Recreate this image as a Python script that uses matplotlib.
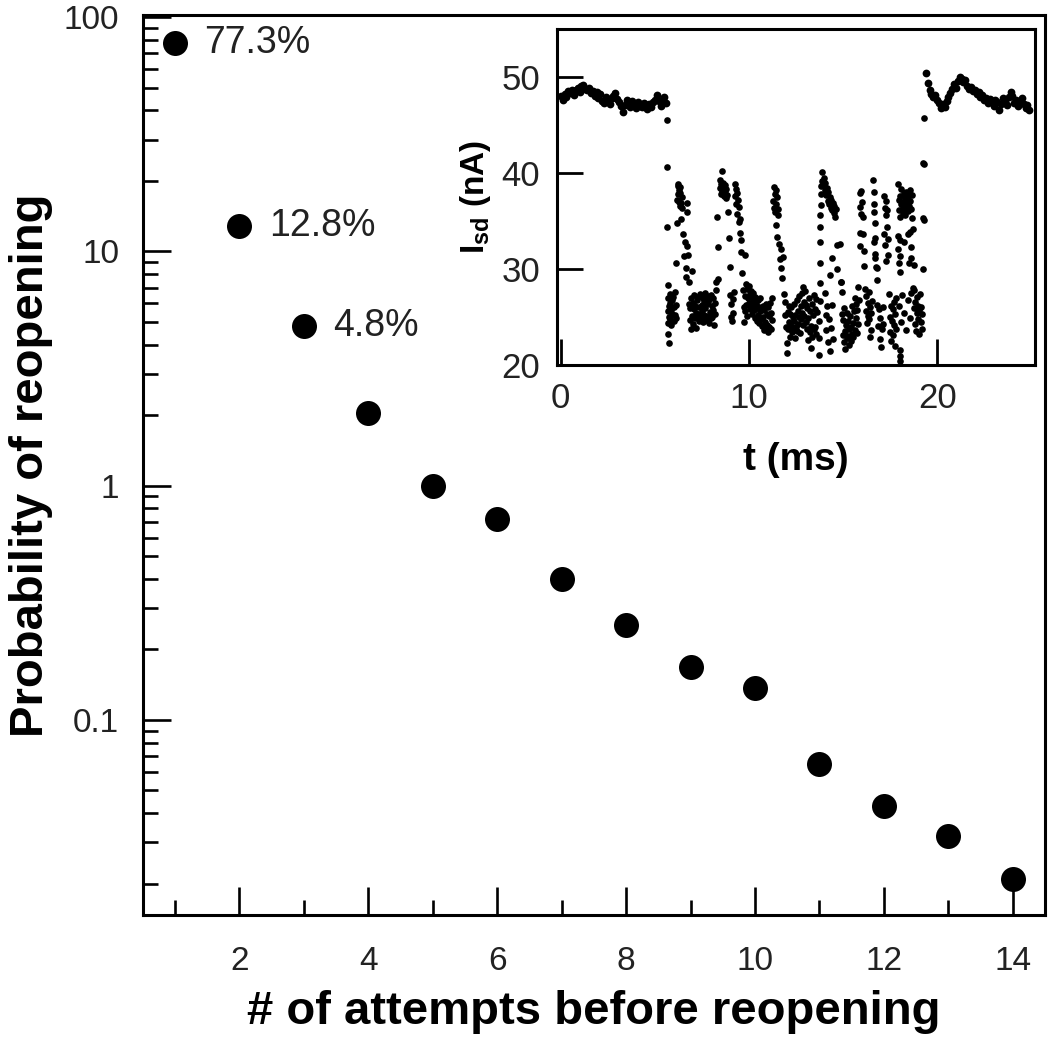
import numpy as np
import matplotlib
matplotlib.use('Agg')
import matplotlib.pyplot as plt
from matplotlib.ticker import FixedLocator, NullFormatter, FixedFormatter

plt.rcParams['font.family'] = ['Liberation Sans', 'DejaVu Sans']
plt.rcParams['mathtext.fontset'] = 'custom'
plt.rcParams['mathtext.rm'] = 'Liberation Sans'
plt.rcParams['mathtext.bf'] = 'Liberation Sans:bold'

# ---------------- main data ----------------
attempts = [1, 2, 3, 4, 5, 6, 7, 8, 9, 10, 11, 12, 13, 14]
prob = [77.3, 12.8, 4.8, 2.05, 1.0, 0.72, 0.40, 0.255, 0.168, 0.137,
        0.065, 0.043, 0.032, 0.021]
pct_labels = ['77.3%', '12.8%', '4.8%']

x_major = [2, 4, 6, 8, 10, 12, 14]
x_minor = [1, 3, 5, 7, 9, 11, 13]
y_major = [0.1, 1, 10, 100]
y_major_labels = ['0.1', '1', '10', '100']

# ---------------- inset data (current trace) ----------------
open1_start = 0.0
open1_step = 0.1
open1_I = [48.0, 47.6, 48.2, 47.9, 48.5, 48.3, 48.7, 48.1, 48.6, 48.9,
           48.4, 49.1, 49.2, 48.8, 48.6, 48.9, 48.3, 48.5, 48.0, 48.4,
           47.8, 48.2, 47.5, 47.3, 47.9, 47.6, 47.2, 47.8, 48.0, 48.3,
           47.7, 47.4, 47.0, 46.4, 47.1, 47.6, 47.3, 46.9, 47.5, 47.2,
           46.8, 47.4, 47.0, 46.9, 47.3, 47.1, 46.7, 47.2, 46.9, 47.4,
           47.6, 48.1, 47.5, 47.0, 47.6, 47.9, 47.3]

open2_start = 19.4
open2_step = 0.1
open2_I = [50.4, 49.4, 48.6, 48.2, 47.9, 48.1, 47.6, 47.3, 46.8, 47.2,
           46.9, 47.5, 47.9, 48.3, 48.8, 49.3, 48.9, 49.6, 50.0, 49.8,
           49.5, 49.7, 49.1, 48.8, 49.0, 48.5, 48.7, 48.2, 48.4, 47.9,
           48.1, 47.6, 47.8, 47.3, 47.7, 47.5, 47.0, 47.6, 47.4, 46.6,
           47.2, 47.8, 47.5, 47.1, 47.9, 48.4, 48.0, 47.3, 47.6, 47.0,
           47.4, 47.8, 47.2, 46.8, 47.1, 46.6]

blocked_t = [
    5.62, 5.64, 5.66,
    5.68, 5.69, 5.70, 5.71, 5.72, 5.73, 5.75, 5.76, 5.78, 5.80, 5.82, 5.84,
    5.88, 5.90, 5.93, 5.96, 5.99, 6.02, 6.05, 6.08, 6.11, 6.14,
    6.17, 6.19, 6.21, 6.23, 6.25, 6.27, 6.29, 6.31, 6.33, 6.35, 6.37, 6.40, 6.43, 6.46,
    6.50, 6.55, 6.60, 6.64, 6.68, 6.71, 6.73, 6.76, 6.79,
    6.82, 6.85, 6.88, 6.91, 6.94, 6.97, 7.00, 7.03, 7.06, 7.09, 7.12, 7.15, 7.18, 7.21,
    7.24, 7.27, 7.30, 7.33, 7.36, 7.39, 7.42, 7.45, 7.48, 7.51, 7.54, 7.57, 7.60, 7.63,
    7.66, 7.69, 7.72, 7.75, 7.78, 7.81, 7.84, 7.87, 7.90, 7.93, 7.96, 7.99, 8.02, 8.05,
    8.08, 8.11, 8.14, 8.17, 8.20, 8.23, 8.26,
    8.32, 8.35, 8.38,
    8.44, 8.47, 8.50, 8.53, 8.56, 8.59, 8.62, 8.65, 8.68, 8.71, 8.74, 8.77, 8.80, 8.83,
    8.88, 8.93, 8.98,
    9.01, 9.04, 9.07, 9.10, 9.13, 9.16, 9.19,
    9.24, 9.27, 9.30, 9.33, 9.36, 9.39, 9.42, 9.45, 9.48, 9.51, 9.54, 9.57, 9.60, 9.63,
    9.68, 9.71, 9.74, 9.77, 9.80, 9.83, 9.86, 9.89, 9.92, 9.95, 9.98, 10.01, 10.04,
    10.07, 10.10, 10.13, 10.16, 10.19, 10.22, 10.25, 10.28, 10.31, 10.34, 10.37, 10.40,
    10.43, 10.46, 10.49, 10.52, 10.55, 10.58, 10.61, 10.64, 10.67, 10.70, 10.73, 10.76,
    10.79, 10.82, 10.85, 10.88, 10.91, 10.94, 10.97, 11.00, 11.03, 11.06, 11.09, 11.12,
    11.15, 11.18, 11.21, 11.24,
    11.28, 11.31, 11.34, 11.37, 11.40, 11.43, 11.46, 11.49, 11.52, 11.55,
    11.45, 11.50, 11.58, 11.63, 11.68, 11.72, 11.78, 11.83,
    11.88, 11.91, 11.94, 11.97, 12.00, 12.02, 12.05, 12.08, 12.11, 12.14, 12.17, 12.20,
    12.23, 12.26, 12.29, 12.32, 12.35, 12.38, 12.41, 12.44, 12.47, 12.50, 12.53, 12.56,
    12.59, 12.62, 12.65, 12.68, 12.71, 12.74, 12.77, 12.80, 12.83, 12.86, 12.89, 12.92,
    12.95, 12.98, 13.01, 13.04, 13.07, 13.10, 13.13, 13.16, 13.19, 13.22, 13.25, 13.28,
    13.31, 13.34, 13.37, 13.40, 13.43, 13.46, 13.49, 13.52, 13.55, 13.58, 13.61,
    13.72, 13.73, 13.74, 13.75, 13.76, 13.77, 13.78, 13.79, 13.80, 13.81, 13.82, 13.83,
    13.86, 13.90, 13.94, 13.98, 14.02, 14.06, 14.10, 14.14, 14.18, 14.22, 14.26, 14.30,
    14.34, 14.38, 14.42, 14.46, 14.50, 14.54, 14.58, 14.62, 14.66, 14.70,
    14.03, 14.08, 14.12, 14.17, 14.21, 14.26, 14.31, 14.36, 14.41, 14.46,
    14.86, 14.88,
    14.92, 14.95, 14.98, 15.01, 15.04, 15.07, 15.10, 15.13, 15.16, 15.19, 15.22, 15.25,
    15.28, 15.31, 15.34, 15.37, 15.40, 15.43, 15.46, 15.49, 15.52, 15.55, 15.58, 15.61,
    15.64, 15.67, 15.70, 15.73, 15.76, 15.79, 15.82, 15.85,
    15.89, 15.92, 15.95, 15.98, 16.01, 16.04, 16.07, 16.10, 16.13,
    16.18, 16.21, 16.24, 16.27, 16.30, 16.33, 16.36, 16.39, 16.42, 16.45, 16.48, 16.51, 16.54,
    16.60, 16.62, 16.64, 16.66, 16.68, 16.70, 16.72, 16.75, 16.78,
    16.82, 16.86, 16.90, 16.94, 16.98, 17.02, 17.06, 17.10, 17.14,
    17.20, 17.23, 17.26, 17.29, 17.32, 17.35, 17.38, 17.41,
    17.45, 17.48, 17.51, 17.54, 17.57, 17.60, 17.63, 17.66, 17.69, 17.72, 17.75, 17.78, 17.81, 17.84,
    17.92, 17.95, 17.98, 18.01, 18.04, 18.07, 18.10, 18.13, 18.16, 18.19, 18.22, 18.25,
    18.28, 18.31, 18.34, 18.37, 18.40, 18.43, 18.46, 18.49, 18.52, 18.55, 18.58, 18.61,
    18.64, 18.67, 18.70,
    18.00, 18.03, 18.05, 18.22, 18.45, 18.52, 18.60, 18.75,
    18.02, 18.03, 18.04,
    17.95, 18.08, 18.15, 18.26, 18.35, 18.44, 18.54, 18.63,
    18.76, 18.79, 18.82, 18.85, 18.88, 18.91, 18.94, 18.97, 19.00, 19.03, 19.06, 19.09,
    19.12, 19.15, 19.18, 19.21,
    19.24, 19.25, 19.26, 19.30, 19.31, 19.32,
    6.12, 6.70, 6.95, 9.80, 15.90, 15.92, 16.62, 16.70, 16.78, 17.20, 17.22, 17.26,
    17.90, 17.92, 17.95, 18.55, 18.62, 18.70, 14.90, 14.40, 14.30,
]

blocked_I = [
    45.5, 40.6, 34.4,
    28.3, 27.0, 25.6, 24.4, 23.2, 22.3, 26.1, 25.0, 27.4, 24.8, 26.5, 25.7,
    24.2, 26.8, 25.3, 27.1, 24.6, 26.0, 25.2, 27.6, 24.9, 26.3,
    34.8, 37.2, 38.6, 37.8, 38.9, 37.0, 38.2, 36.6, 37.9, 38.5, 36.9, 35.2, 37.5, 36.4,
    33.6, 31.4, 32.8, 30.1, 29.2, 36.9, 35.9, 31.5, 28.7,
    26.4, 24.7, 25.9, 23.8, 27.0, 25.1, 26.5, 24.3, 25.8, 27.3, 24.9, 26.2, 25.4, 23.9,
    26.8, 25.0, 27.1, 24.6, 26.0, 25.3, 27.4, 24.8, 26.3, 25.6, 27.0, 24.5, 26.7, 25.2,
    27.5, 25.9, 24.7, 26.4, 27.2, 25.1, 26.6, 24.4, 26.9, 25.5, 27.3, 24.9, 26.1, 25.0,
    27.0, 25.7, 24.2, 26.5, 25.3, 27.8, 28.6,
    35.4, 32.3, 29.0,
    38.4, 39.3, 37.8, 38.9, 40.2, 38.1, 39.0, 37.6, 38.6, 37.9, 38.8, 37.4, 38.3, 37.7,
    35.9, 33.2, 30.2,
    27.3, 25.0, 26.4, 24.6, 26.9, 25.4, 27.6,
    38.9, 37.6, 38.3, 36.8, 37.9, 35.7, 37.2, 34.9, 36.5, 33.8, 35.2, 31.8, 33.0, 29.6,
    27.8, 26.0, 24.5, 27.2, 25.6, 28.4, 26.3, 27.9, 25.1, 27.0, 26.5, 28.2, 25.8,
    27.4, 26.1, 27.7, 25.3, 26.9, 27.5, 25.7, 26.6, 24.9, 27.1, 25.9, 26.4,
    24.6, 26.8, 25.2, 26.0, 24.4, 25.6, 27.0, 24.8, 25.9, 24.1, 26.2, 25.0,
    23.6, 25.7, 24.5, 26.4, 23.9, 25.3, 24.2, 26.0, 23.4, 25.1, 24.0, 26.5,
    23.8, 25.4, 27.0, 24.7,
    37.1, 38.5, 36.4, 37.8, 35.9, 38.2, 36.8, 37.5, 35.6, 36.3,
    34.6, 33.3, 32.6, 31.0, 30.1, 32.1, 29.1, 31.3,
    27.4, 25.2, 26.6, 24.0, 22.3, 21.2, 25.5, 23.7, 26.2, 24.5, 22.9, 25.3,
    24.1, 26.0, 23.4, 25.0, 23.9, 26.4, 24.6, 22.8, 25.2, 24.0, 26.8, 23.5,
    25.6, 24.3, 27.2, 25.0, 23.3, 26.1, 24.8, 27.5, 25.4, 28.1, 24.2, 26.6,
    25.1, 27.7, 24.5, 26.3, 23.8, 25.9, 22.6, 24.9, 27.0, 23.4, 25.6, 21.8,
    24.1, 26.4, 22.9, 25.2, 27.3, 23.7, 25.8, 24.0, 26.9, 23.2, 25.5,
    21.0, 22.8, 24.6, 26.7, 28.5, 30.6, 32.8, 34.4, 35.6, 36.7, 37.8, 38.6,
    39.2, 40.1, 38.8, 39.5, 38.2, 39.0, 37.7, 38.4, 37.1, 38.0, 36.8, 37.5,
    36.4, 37.2, 36.1, 36.9, 35.8, 36.6, 35.4, 36.3, 32.5, 30.0,
    27.5, 25.2, 23.6, 26.1, 22.4, 24.8, 21.5, 23.9, 26.3, 22.7,
    32.6, 28.7,
    27.6, 25.3, 23.1, 24.7, 22.4, 25.9, 23.5, 21.7, 24.2, 22.8, 25.4, 23.0,
    24.6, 22.1, 23.8, 25.1, 22.5, 24.0, 23.2, 26.2, 24.4, 22.9, 25.6, 23.6,
    27.0, 24.9, 26.4, 23.3, 25.7, 28.1, 24.3, 26.8,
    37.9, 36.5, 38.1, 35.7, 37.0, 35.4, 33.6, 31.9, 30.3,
    27.9, 25.6, 27.2, 24.4, 26.5, 25.1, 27.6, 24.8, 26.0, 22.9, 25.4, 23.6, 26.7,
    39.3, 38.0, 36.8, 35.9, 34.8, 33.2, 31.6, 30.2, 28.9,
    26.3, 24.1, 25.8, 22.7, 24.9, 21.9, 23.8, 26.0, 24.3,
    37.6, 36.4, 37.1, 35.6, 36.2, 34.4, 33.1, 31.5,
    27.4, 25.0, 23.4, 26.1, 22.5, 24.6, 25.8, 23.1, 26.6, 24.2, 22.0, 25.3, 23.7, 27.0,
    38.9, 37.2, 36.1, 37.6, 35.4, 36.8, 38.3, 37.0, 35.8, 36.5, 37.9, 36.2,
    37.4, 35.6, 36.9, 38.0, 36.4, 37.5, 36.0, 37.8, 36.6, 38.2, 37.1, 36.3,
    37.7, 35.3, 34.2,
    33.0, 31.4, 29.7, 32.8, 33.6, 30.6, 32.3, 30.4,
    21.6, 20.9, 20.4,
    26.2, 24.5, 27.3, 25.4, 23.6, 26.8, 24.9, 27.5,
    27.8, 25.9, 24.3, 26.6, 23.5, 25.4, 27.1, 24.8, 26.2, 23.2, 25.7, 27.4,
    24.5, 26.0, 23.8, 25.3,
    41.0, 35.3, 30.0, 45.7, 40.9, 35.1,
    30.6, 32.4, 29.8, 31.5, 32.4, 33.8, 32.8, 31.1, 30.1, 33.7, 32.5, 30.8,
    33.4, 32.1, 30.6, 33.9, 31.1, 28.0, 28.6, 31.2, 29.4,
]

inset_xticks = [0, 10, 20]
inset_yticks = [20, 30, 40, 50]

# ---------------- figure ----------------
fig = plt.figure(figsize=(10.5, 10.48), dpi=100)
ax = fig.add_axes([0.1360, 0.1269, 0.8593, 0.8588])

ax.plot(attempts, prob, 'o', color='black', markersize=18, markeredgewidth=0,
        zorder=3)
for i, lab in enumerate(pct_labels):
    ax.annotate(lab, (attempts[i], prob[i]), xytext=(21, 0),
                textcoords='offset points', va='center', ha='left',
                fontsize=27, color='#222222')

ax.set_yscale('log')
ax.set_xlim(0.5, 14.5)
ax.set_ylim(0.0147, 102)

ax.xaxis.set_major_locator(FixedLocator(x_major))
ax.xaxis.set_minor_locator(FixedLocator(x_minor))
ax.yaxis.set_major_locator(FixedLocator(y_major))
ax.yaxis.set_major_formatter(FixedFormatter(y_major_labels))
ax.yaxis.set_minor_formatter(NullFormatter())

ax.tick_params(axis='both', which='major', direction='in', length=20,
               width=1.9, labelsize=24, labelcolor='#222222', pad=17)
ax.tick_params(axis='both', which='minor', direction='in', length=11,
               width=1.9)
ax.tick_params(axis='x', which='major', pad=22)
for sp in ax.spines.values():
    sp.set_linewidth(2.2)

ax.set_xlabel('# of attempts before reopening', fontsize=34,
              fontweight='bold', labelpad=10)
ax.set_ylabel('Probability of reopening', fontsize=34, fontweight='bold')
ax.yaxis.set_label_coords(-0.099, 0.5)

# ---------------- inset ----------------
axi = fig.add_axes([0.5305, 0.6517, 0.4552, 0.3206])
t1 = [open1_start + open1_step * k for k in range(len(open1_I))]
t2 = [open2_start + open2_step * k for k in range(len(open2_I))]
axi.plot(t1, open1_I, 'o', color='black', markersize=5.6, markeredgewidth=0)
axi.plot(t2, open2_I, 'o', color='black', markersize=5.6, markeredgewidth=0)
axi.plot(blocked_t, blocked_I, 'o', color='black', markersize=4.8,
         markeredgewidth=0)

axi.set_xlim(-0.2, 25.2)
axi.set_ylim(20, 55)
axi.xaxis.set_major_locator(FixedLocator(inset_xticks))
axi.yaxis.set_major_locator(FixedLocator(inset_yticks))
axi.tick_params(axis='both', which='major', direction='in', length=19,
                width=2.0, labelsize=25, labelcolor='#222222', pad=12)
for sp in axi.spines.values():
    sp.set_linewidth(2.2)
axi.set_xlabel('t (ms)', fontsize=28, fontweight='bold', labelpad=20)
axi.set_ylabel(r'$\mathbf{I_{sd}}$ (nA)', fontsize=24, fontweight='bold',
               labelpad=6)

fig.savefig('out.png', dpi=100)
